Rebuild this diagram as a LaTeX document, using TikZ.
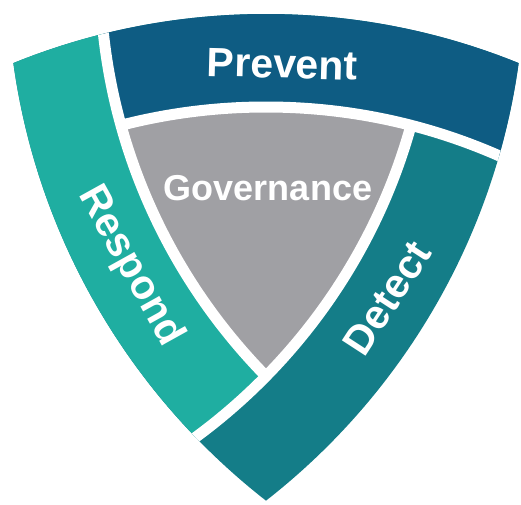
\documentclass[tikz,border=0pt]{standalone}
\usepackage{fontspec}
\setmainfont{Liberation Sans}
\definecolor{preventblue}{RGB}{14,92,131}
\definecolor{respondteal}{RGB}{31,174,161}
\definecolor{detectteal}{RGB}{20,125,136}
\definecolor{govgray}{RGB}{160,160,164}
\newcommand{\gapr}{579.5}
\newcommand{\outr}{672.5}
\begin{document}
\begin{tikzpicture}[x=1pt, y=1pt,
    gapline/.style={white, line width=11},
    bandtext/.style={text=white, inner sep=0pt, text depth=0pt, font=\fontsize{41}{41}\selectfont\bfseries}]
  \useasboundingbox (-266,-295) rectangle (255,209);

  % centres of the three side arcs
  \coordinate (c1) at (0,-477.5);
  \coordinate (c2) at (-413.5,238.75);
  \coordinate (c3) at (413.5,238.75);

  \begin{scope}
    % outer shield, Detect underneath
    \clip (c1) circle (\outr);
    \clip (c2) circle (\outr);
    \clip (c3) circle (\outr);
    \fill[detectteal] (-300,-300) rectangle (300,300);

    % Respond band
    \begin{scope}
      \clip (c2) circle (\gapr);
      \fill[respondteal, even odd rule] (-300,-300) rectangle (300,300) (c3) circle (\gapr);
    \end{scope}

    % Prevent band
    \begin{scope}
      \clip (c3) circle (\gapr);
      \fill[preventblue, even odd rule] (-300,-300) rectangle (300,300) (c1) circle (\gapr);
    \end{scope}

    % Governance core
    \begin{scope}
      \clip (c1) circle (\gapr);
      \clip (c2) circle (\gapr);
      \fill[govgray] (c3) circle (\gapr);
    \end{scope}

    % white gaps
    \begin{scope}
      \clip (c3) circle (\gapr);
      \draw[gapline] (c1) circle (\gapr);
    \end{scope}
    \begin{scope}
      \clip (c1) circle (\gapr);
      \draw[gapline] (c2) circle (\gapr);
    \end{scope}
    \begin{scope}
      \clip (c2) circle (\gapr);
      \draw[gapline] (c3) circle (\gapr);
    \end{scope}
  \end{scope}

  \node[bandtext, rotate=-1.5] (prevent) at (16.5,145) {Prevent};
  \node[bandtext, rotate=-61] (respond) at (-132,-55) {Respond};
  \node[bandtext, rotate=57] (detect) at (121,-89) {Detect};
  \node[bandtext, font=\fontsize{36}{36}\selectfont\bfseries] (governance) at (2,21.5) {Governance};
\end{tikzpicture}
\end{document}
